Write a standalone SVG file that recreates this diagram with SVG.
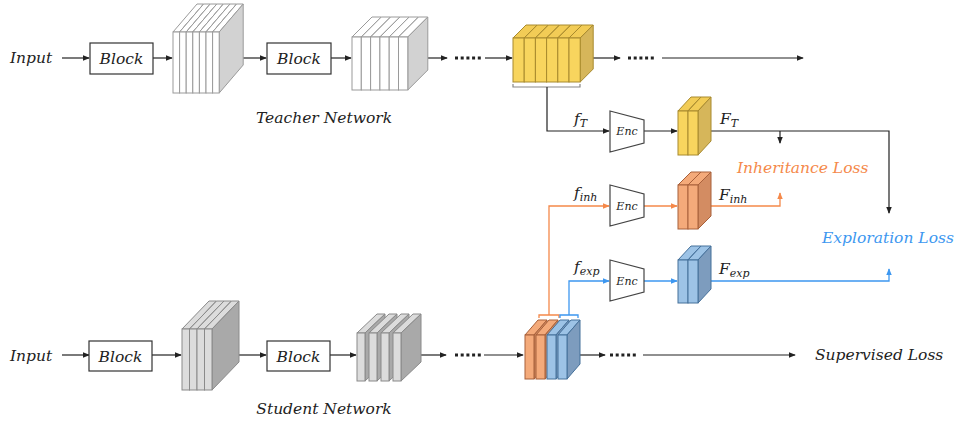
<svg xmlns="http://www.w3.org/2000/svg" xmlns:xlink="http://www.w3.org/1999/xlink" width="956" height="423" viewBox="0 0 956 423">
<style>
.t{font-family:"DejaVu Serif","Liberation Serif",serif;font-style:italic;font-size:15.5px;fill:#222}
.s{font-size:11px}
.enc{font-family:"DejaVu Serif","Liberation Serif",serif;font-style:italic;font-size:11px;fill:#222}
.box{fill:#fff;stroke:#333;stroke-width:1.2}
.trap{fill:#fff;stroke:#444;stroke-width:1.2}
.k{fill:none;stroke:#222;stroke-width:1.2}
.o{fill:none;stroke:#F5894A;stroke-width:1.3}
.b{fill:none;stroke:#3D97F0;stroke-width:1.3}
.dots{fill:none;stroke-width:3;stroke-dasharray:3 2.7}
.wf{fill:#fff;stroke:#9a9a9a;stroke-width:1}
.ws{fill:#d2d2d2;stroke:#9a9a9a;stroke-width:1}
.gf{fill:#dcdcdc;stroke:#8a8a8a;stroke-width:1}
.gs{fill:#a9a9a9;stroke:#8a8a8a;stroke-width:1}
.yf{fill:#F8D55E;stroke:#A88A2E;stroke-width:1}
.yt{fill:#F2CC56;stroke:#A88A2E;stroke-width:1}
.ys{fill:#D6B65A;stroke:#A88A2E;stroke-width:1}
.of{fill:#F4AA7A;stroke:#A8603A;stroke-width:1}
.os{fill:#D38C62;stroke:#A8603A;stroke-width:1}
.bf{fill:#9DC3E6;stroke:#45709A;stroke-width:1}
.bs{fill:#7D9CBE;stroke:#45709A;stroke-width:1}
</style>
<defs>
<marker id="ak" viewBox="0 0 8 8" refX="7" refY="4" markerWidth="7" markerHeight="7" markerUnits="userSpaceOnUse" orient="auto"><path d="M0,0.8 L8,4 L0,7.2 Z" fill="#222"/></marker>
<marker id="ao" viewBox="0 0 8 8" refX="7" refY="4" markerWidth="7" markerHeight="7" markerUnits="userSpaceOnUse" orient="auto"><path d="M0,0.8 L8,4 L0,7.2 Z" fill="#F5894A"/></marker>
<marker id="ab" viewBox="0 0 8 8" refX="7" refY="4" markerWidth="7" markerHeight="7" markerUnits="userSpaceOnUse" orient="auto"><path d="M0,0.8 L8,4 L0,7.2 Z" fill="#3D97F0"/></marker>
<!-- plate shapes: origin = front top-left -->
<g id="p1"><path class="wf" d="M0,0 L24,-28 L30.6,-28 L6.6,0 Z"/><path class="ws" d="M6.6,0 L30.6,-28 L30.6,33 L6.6,61 Z"/><rect class="wf" x="0" y="0" width="6.6" height="61"/></g>
<g id="p2"><path class="wf" d="M0,0 L20,-20 L29.3,-20 L9.3,0 Z"/><path class="ws" d="M9.3,0 L29.3,-20 L29.3,33 L9.3,53 Z"/><rect class="wf" x="0" y="0" width="9.3" height="53"/></g>
<g id="py"><path class="yt" d="M0,0 L13,-13 L24.2,-13 L11.2,0 Z"/><path class="ys" d="M11.2,0 L24.2,-13 L24.2,31 L11.2,44 Z"/><rect class="yf" x="0" y="0" width="11.2" height="44"/></g>
<g id="pys"><path class="yt" d="M0,0 L13,-14 L23,-14 L10,0 Z"/><path class="ys" d="M10,0 L23,-14 L23,30 L10,44 Z"/><rect class="yf" x="0" y="0" width="10" height="44"/></g>
<g id="pos"><path class="of" d="M0,0 L13,-13 L23,-13 L10,0 Z"/><path class="os" d="M10,0 L23,-13 L23,31 L10,44 Z"/><rect class="of" x="0" y="0" width="10" height="44"/></g>
<g id="pbs"><path class="bf" d="M0,0 L13,-14 L23,-14 L10,0 Z"/><path class="bs" d="M10,0 L23,-14 L23,29 L10,43 Z"/><rect class="bf" x="0" y="0" width="10" height="43"/></g>
<g id="s1"><path class="gf" d="M0,0 L27,-28 L34.5,-28 L7.5,0 Z"/><path class="gs" d="M7.5,0 L34.5,-28 L34.5,33 L7.5,61 Z"/><rect class="gf" x="0" y="0" width="7.5" height="61"/></g>
<g id="s2"><path class="gf" d="M0,0 L20,-19 L28,-19 L8,0 Z"/><path class="gs" d="M8,0 L28,-19 L28,29 L8,48 Z"/><rect class="gf" x="0" y="0" width="8" height="48"/></g>
<g id="mo"><path class="of" d="M0,0 L13,-15 L22,-15 L9,0 Z"/><path class="os" d="M9,0 L22,-15 L22,29 L9,44 Z"/><rect class="of" x="0" y="0" width="9" height="44"/></g>
<g id="mb"><path class="bf" d="M0,0 L13,-15 L22,-15 L9,0 Z"/><path class="bs" d="M9,0 L22,-15 L22,29 L9,44 Z"/><rect class="bf" x="0" y="0" width="9" height="44"/></g>
</defs>

<g id="connectors">
<!-- teacher row -->
<line class="k" x1="62" y1="58" x2="89" y2="58" marker-end="url(#ak)"/>
<line class="k" x1="153" y1="58" x2="172" y2="58" marker-end="url(#ak)"/>
<line class="k" x1="243" y1="58" x2="266" y2="58" marker-end="url(#ak)"/>
<line class="k" x1="331" y1="58" x2="351" y2="58" marker-end="url(#ak)"/>
<line class="k" x1="428" y1="58" x2="447" y2="58" marker-end="url(#ak)"/>
<line class="dots" stroke="#222" x1="455" y1="58" x2="482" y2="58"/>
<line class="k" x1="485" y1="58" x2="512" y2="58" marker-end="url(#ak)"/>
<line class="k" x1="593" y1="58" x2="620" y2="58" marker-end="url(#ak)"/>
<line class="dots" stroke="#222" x1="628" y1="58" x2="655" y2="58"/>
<line class="k" x1="662" y1="58" x2="803" y2="58" marker-end="url(#ak)"/>
<!-- student row -->
<line class="k" x1="62" y1="355" x2="89" y2="355" marker-end="url(#ak)"/>
<line class="k" x1="152" y1="355" x2="181" y2="355" marker-end="url(#ak)"/>
<line class="k" x1="239" y1="355" x2="266" y2="355" marker-end="url(#ak)"/>
<line class="k" x1="330" y1="355" x2="356" y2="355" marker-end="url(#ak)"/>
<line class="k" x1="421" y1="355" x2="446" y2="355" marker-end="url(#ak)"/>
<line class="dots" stroke="#222" x1="455" y1="355" x2="482" y2="355"/>
<line class="k" x1="484" y1="355" x2="523" y2="355" marker-end="url(#ak)"/>
<line class="k" x1="580" y1="355" x2="605" y2="355" marker-end="url(#ak)"/>
<line class="dots" stroke="#222" x1="610" y1="355" x2="637" y2="355"/>
<line class="k" x1="643" y1="355" x2="795" y2="355" marker-end="url(#ak)"/>
<!-- teacher feature branch -->
<path d="M513,84 V87 H580 V84" fill="none" stroke="#888" stroke-width="1.2"/>
<path class="k" d="M547,87 V131 H609" marker-end="url(#ak)"/>
<line class="k" x1="644" y1="131" x2="677" y2="131" marker-end="url(#ak)"/>
<path class="k" d="M711,131 H889 V213" marker-end="url(#ak)"/>
<path class="k" d="M780,131 V143" marker-end="url(#ak)"/>
<!-- inheritance branch -->
<path class="o" d="M539,318 V315 H559 V318"/>
<path class="o" d="M549,315 V206 H609" marker-end="url(#ao)"/>
<line class="o" x1="644" y1="206" x2="677" y2="206" marker-end="url(#ao)"/>
<path class="o" d="M711,206 H780 V193" marker-end="url(#ao)"/>
<!-- exploration branch -->
<path class="b" d="M560,318 V315 H578 V318"/>
<path class="b" d="M569,315 V281 H609" marker-end="url(#ab)"/>
<line class="b" x1="644" y1="281" x2="677" y2="281" marker-end="url(#ab)"/>
<path class="b" d="M711,281 H889 V269" marker-end="url(#ab)"/>
</g>

<g id="teacher-input"><text class="t" x="10" y="63">Input</text></g>
<g id="teacher-block1"><rect class="box" x="90" y="43" width="63" height="31"/><text class="t" x="121.5" y="64" text-anchor="middle">Block</text></g>
<g id="teacher-feat1">
<use href="#p1" x="173" y="32"/><use href="#p1" x="179.6" y="32"/><use href="#p1" x="186.2" y="32"/><use href="#p1" x="192.8" y="32"/><use href="#p1" x="199.4" y="32"/><use href="#p1" x="206" y="32"/><use href="#p1" x="212.6" y="32"/>
</g>
<g id="teacher-block2"><rect class="box" x="267" y="43" width="64" height="31"/><text class="t" x="299" y="64" text-anchor="middle">Block</text></g>
<g id="teacher-feat2">
<use href="#p2" x="352" y="37"/><use href="#p2" x="361.3" y="37"/><use href="#p2" x="370.6" y="37"/><use href="#p2" x="379.9" y="37"/><use href="#p2" x="389.2" y="37"/><use href="#p2" x="398.5" y="37"/>
</g>
<g id="teacher-label"><text class="t" x="324" y="123" text-anchor="middle">Teacher Network</text></g>
<g id="teacher-feat3">
<use href="#py" x="513" y="38"/><use href="#py" x="524.2" y="38"/><use href="#py" x="535.4" y="38"/><use href="#py" x="546.6" y="38"/><use href="#py" x="557.8" y="38"/><use href="#py" x="569" y="38"/>
</g>

<g id="enc-t"><polygon class="trap" points="610,111 644,120 644,143 610,152"/><text class="enc" x="627" y="135" text-anchor="middle">Enc</text></g>
<g id="enc-inh"><polygon class="trap" points="610,185 644,194 644,217 610,226"/><text class="enc" x="627" y="209.5" text-anchor="middle">Enc</text></g>
<g id="enc-exp"><polygon class="trap" points="610,260 644,269 644,292 610,301"/><text class="enc" x="627" y="284.5" text-anchor="middle">Enc</text></g>

<g id="FT"><use href="#pys" x="678" y="111"/><use href="#pys" x="688" y="111"/></g>
<g id="Finh"><use href="#pos" x="678" y="185"/><use href="#pos" x="688" y="185"/></g>
<g id="Fexp"><use href="#pbs" x="678" y="260"/><use href="#pbs" x="688" y="260"/></g>

<g id="labels">
<text class="t" x="574" y="124">f<tspan class="s" dy="3">T</tspan></text>
<text class="t" x="720" y="124">F<tspan class="s" dy="3">T</tspan></text>
<text class="t" x="574" y="198">f<tspan class="s" dy="3">inh</tspan></text>
<text class="t" x="719" y="200">F<tspan class="s" dy="3">inh</tspan></text>
<text class="t" x="574" y="272">f<tspan class="s" dy="3">exp</tspan></text>
<text class="t" x="719" y="274">F<tspan class="s" dy="3">exp</tspan></text>
</g>
<g id="inheritance-loss"><text class="t" x="737" y="173" style="fill:#F5894A">Inheritance Loss</text></g>
<g id="exploration-loss"><text class="t" x="822" y="243" style="fill:#3D97F0">Exploration Loss</text></g>

<g id="student-input"><text class="t" x="10" y="361">Input</text></g>
<g id="student-block1"><rect class="box" x="89" y="341" width="63" height="30"/><text class="t" x="120.5" y="361.5" text-anchor="middle">Block</text></g>
<g id="student-feat1">
<use href="#s1" x="182" y="329"/><use href="#s1" x="189.5" y="329"/><use href="#s1" x="197" y="329"/><use href="#s1" x="204.5" y="329"/>
</g>
<g id="student-block2"><rect class="box" x="267" y="341" width="63" height="30"/><text class="t" x="298.5" y="361.5" text-anchor="middle">Block</text></g>
<g id="student-feat2">
<use href="#s2" x="357" y="333"/><use href="#s2" x="369" y="333"/><use href="#s2" x="381" y="333"/><use href="#s2" x="393" y="333"/>
</g>
<g id="student-label"><text class="t" x="324" y="414" text-anchor="middle">Student Network</text></g>
<g id="student-feat3">
<use href="#mo" x="525" y="335"/><use href="#mo" x="536" y="335"/><use href="#mb" x="547" y="335"/><use href="#mb" x="558" y="335"/>
</g>
<g id="supervised-loss"><text class="t" x="815" y="360">Supervised Loss</text></g>
</svg>
